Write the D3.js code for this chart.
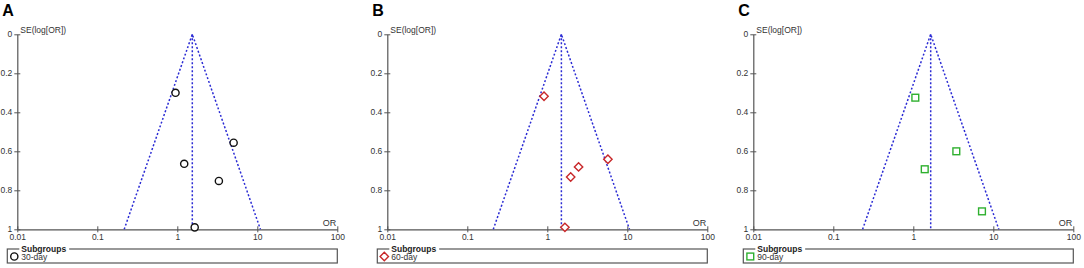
<!DOCTYPE html>
<html>
<head>
<meta charset="utf-8">
<script src="https://cdn.jsdelivr.net/npm/d3@7"></script>
<style>
  body { margin: 0; background: #fff; }
  svg { display: block; font-family: Arial, "Liberation Sans", sans-serif; }
</style>
</head>
<body>
<div class="canvas"></div>
<script>
// panel A: 30-day
const orA = [0.95, 5.06, 1.22, 3.31, 1.65];
const seA = [0.30, 0.556, 0.664, 0.752, 0.99];
const pooledA = 1.54;
// panel B: 60-day
const orB = [0.91, 5.72, 2.46, 1.96, 1.66];
const seB = [0.318, 0.641, 0.68, 0.732, 0.99];
const pooledB = 1.5;
// panel C: 90-day
const orC = [1.06, 3.45, 1.39, 7.22];
const seC = [0.325, 0.60, 0.692, 0.908];
const pooledC = 1.65;

const xTicks = [0.01, 0.1, 1, 10, 100];
const yTicks = [0, 0.2, 0.4, 0.6, 0.8, 1];
const panelLabels = ['A', 'B', 'C'];
const subgroupNames = ['30-day', '60-day', '90-day'];

const panels = [
  { label: panelLabels[0], or: orA, se: seA, pooled: pooledA, name: subgroupNames[0], left: 17.3, symbol: 'circle', color: '#111' },
  { label: panelLabels[1], or: orB, se: seB, pooled: pooledB, name: subgroupNames[1], left: 387.3, symbol: 'diamond', color: '#c8282a' },
  { label: panelLabels[2], or: orC, se: seC, pooled: pooledC, name: subgroupNames[2], left: 753.3, symbol: 'square', color: '#2fb02f' }
];

const plotW = 320;
const plotTop = 34.3;
const plotH = 195;
const axisColor = '#555';
const funnelColor = '#2b2bd4';

const svg = d3.select('.canvas').append('svg').attr('width', 1084).attr('height', 268);

const drawMarker = (g, type, color, cx, cy) => {
  if (type === 'circle') {
    g.append('circle').attr('cx', cx).attr('cy', cy).attr('r', 3.6)
      .attr('fill', '#fff').attr('stroke', color).attr('stroke-width', 1.4);
  } else if (type === 'diamond') {
    const s = 4.2;
    g.append('path').attr('d', `M${cx},${cy - s}L${cx + s},${cy}L${cx},${cy + s}L${cx - s},${cy}Z`)
      .attr('fill', '#fff').attr('stroke', color).attr('stroke-width', 1.4);
  } else {
    g.append('rect').attr('x', cx - 3.4).attr('y', cy - 3.4).attr('width', 6.8).attr('height', 6.8)
      .attr('fill', '#fff').attr('stroke', color).attr('stroke-width', 1.4);
  }
};

panels.forEach((p, i) => {
  const x = d3.scaleLog().domain([0.01, 100]).range([p.left, p.left + plotW]);
  const y = d3.scaleLinear().domain([0, 1]).range([plotTop, plotTop + plotH]);

  // panel letter
  svg.append('text').attr('x', p.left - 15).attr('y', 16)
    .attr('font-size', 16).attr('font-weight', 'bold').text(p.label);

  // y axis
  const yAxis = d3.axisLeft(y).tickValues(yTicks).tickFormat(d3.format('~g')).tickSizeInner(3).tickSizeOuter(0).tickPadding(2);
  const yAxisGroup = svg.append('g').attr('transform', `translate(${p.left}, 0)`).call(yAxis);
  yAxisGroup.selectAll('.tick line').attr('x2', -3).attr('x1', 3);
  yAxisGroup.selectAll('.tick text').attr('dy', '0.25em');

  // x axis
  const xAxis = d3.axisBottom(x).tickValues(xTicks).tickFormat(d3.format('~g')).tickSizeInner(3).tickSizeOuter(0).tickPadding(2);
  const xAxisGroup = svg.append('g').attr('transform', `translate(0, ${plotTop + plotH})`).call(xAxis);
  xAxisGroup.selectAll('.tick line').attr('y1', -3).attr('y2', 3);

  [yAxisGroup, xAxisGroup].forEach(gr => {
    gr.select('.domain').attr('stroke', axisColor).attr('stroke-width', 1.2);
    gr.selectAll('.tick line').attr('stroke', axisColor);
    gr.selectAll('text').attr('fill', '#333').attr('font-size', 8.5).attr('font-family', 'Arial, "Liberation Sans", sans-serif');
  });

  svg.append('text').attr('x', p.left + 3).attr('y', 33).attr('font-size', 8.5).attr('fill', '#333').text('SE(log[OR])');
  svg.append('text').attr('x', p.left + plotW - 1).attr('y', plotTop + plotH - 3)
    .attr('text-anchor', 'end').attr('font-size', 9).attr('fill', '#333').text('OR');

  // funnel
  const seMax = y.domain()[1];
  const lnP = Math.log(p.pooled);
  const funnel = [
    [Math.exp(lnP - 1.96 * seMax), seMax],
    [p.pooled, 0],
    [Math.exp(lnP + 1.96 * seMax), seMax]
  ];
  const line = d3.line().x(d => x(d[0])).y(d => y(d[1]));
  svg.append('path').datum(funnel).attr('d', line)
    .attr('fill', 'none').attr('stroke', funnelColor).attr('stroke-width', 1.5).attr('stroke-dasharray', '2,2');
  svg.append('path').datum([[p.pooled, 0], [p.pooled, seMax]]).attr('d', line)
    .attr('fill', 'none').attr('stroke', funnelColor).attr('stroke-width', 1.5).attr('stroke-dasharray', '2,2');

  // points
  const pts = svg.append('g');
  p.or.forEach((v, j) => drawMarker(pts, p.symbol, p.color, x(v), y(p.se[j])));

  // legend
  const lx = p.left - 10;
  const lw = plotW + 10;
  const ly = 249;
  const lh = 14;
  const legend = svg.append('g');
  legend.append('rect').attr('x', lx).attr('y', ly).attr('width', lw).attr('height', lh)
    .attr('fill', 'none').attr('stroke', axisColor).attr('stroke-width', 1.2);
  const mask = legend.append('rect');
  const title = legend.append('text').attr('x', lx + 14).attr('y', ly + 2.5).attr('font-size', 8.5)
    .attr('font-weight', 'bold').attr('fill', '#222').text('Subgroups');
  const tw = title.node().getComputedTextLength();
  mask.attr('x', lx + 12).attr('y', ly - 4).attr('width', tw + 5).attr('height', 8).attr('fill', '#fff');
  drawMarker(legend, p.symbol, p.color, lx + 7, ly + 7.5);
  legend.append('text').attr('x', lx + 14).attr('y', ly + 11).attr('font-size', 8.5).attr('fill', '#333').text(p.name);
});
</script>
</body>
</html>
